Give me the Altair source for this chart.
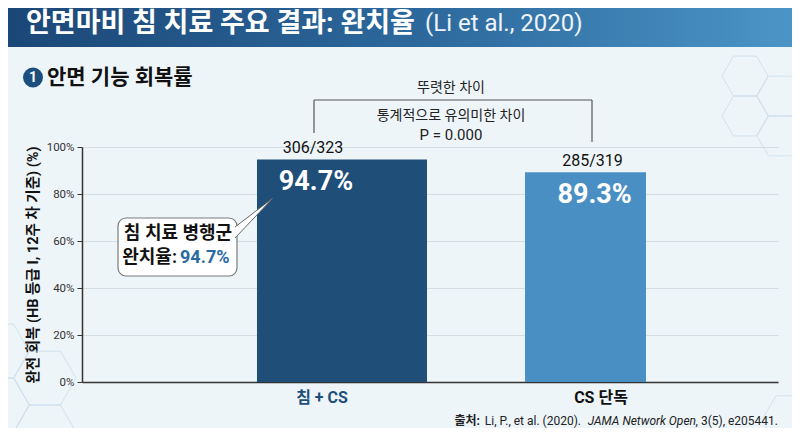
import altair as alt
import pandas as pd

# ---------------- data ----------------
categories = ["침 + CS", "CS 단독"]
rates = [94.7, 89.3]
counts = ["306/323", "285/319"]
y_ticks = [0, 20, 40, 60, 80, 100]

title_main = "안면마비 침 치료 주요 결과: 완치율"
title_ref = "(Li et al., 2020)"
subtitle_num = "1"
subtitle = "안면 기능 회복률"
y_title = "완전 회복 (HB 등급 I, 12주 차 기준) (%)"
bracket_top = "뚜렷한 차이"
bracket_mid = "통계적으로 유의미한 차이"
p_text = "P = 0.000"
callout_1 = "침 치료 병행군"
callout_2 = "완치율:"
source_parts = ["출처:", "Li, P., et al. (2020).", "JAMA Network Open", ", 3(5), e205441."]

# ---------------- styles ----------------
bar_colors = ["#1f4e79", "#4a8fc4"]
bar_widths = [170, 121]
count_dx = [-29, 7]
value_dx = [-26, 9]
FONT = "Roboto, 'Noto Sans CJK KR', sans-serif"
W, H = 696, 235

df = pd.DataFrame({
    "group": categories,
    "rate": rates,
    "count": counts,
    "label": [f"{r}%" for r in rates],
})

X = alt.X(
    "group:N",
    sort=categories,
    scale=alt.Scale(domain=categories, paddingInner=0.3, paddingOuter=0.579,
                    align=0.6197, round=False),
    axis=alt.Axis(
        title=None, labelAngle=0, ticks=False, grid=False,
        domainColor="#333333", domainWidth=1.5,
        labelFont=FONT, labelFontSize=16, labelFontWeight="bold",
        labelPadding=7,
        labelColor={"condition": {"test": f"datum.value === '{categories[0]}'", "value": "#1f4e79"},
                    "value": "#111111"},
        labelOffset={"condition": {"test": f"datum.value === '{categories[0]}'", "value": -20},
                     "value": 15.5},
    ),
)
Y = alt.Y(
    "rate:Q",
    scale=alt.Scale(domain=[0, 100]),
    axis=alt.Axis(
        values=y_ticks, labelExpr="datum.value + '%'",
        title=y_title, titleFont=FONT, titleFontSize=14.5, titleFontWeight="bold",
        titleColor="#111111", titleX=-49, titleY=H / 2, titleAlign="center",
        titleBaseline="middle", titleAngle=-90,
        labelFont=FONT, labelFontSize=11.5, labelColor="#333333", labelPadding=3,
        tickColor="#333333", tickSize=5, domainColor="#333333", domainWidth=1.5,
        grid=True, gridColor="#d5dde4", gridWidth=1,
    ),
)

one = alt.InlineData(values=[{"k": 1}])


def txt(text, x, y, size, weight="normal", color="#111111", align="left", style="normal"):
    return alt.Chart(one).mark_text(
        text=text, font=FONT, fontSize=size, fontWeight=weight, color=color,
        align=align, baseline="middle", fontStyle=style,
    ).encode(x=alt.value(x), y=alt.value(y))


def rule(x, y, x2=None, y2=None, color="#555555", width=1.2):
    enc = dict(x=alt.value(x), y=alt.value(y))
    if x2 is not None:
        enc["x2"] = alt.value(x2)
    if y2 is not None:
        enc["y2"] = alt.value(y2)
    return alt.Chart(one).mark_rule(color=color, strokeWidth=width).encode(**enc)


HEX = "M-1,0L-0.5,-0.866L0.5,-0.866L1,0L0.5,0.866L-0.5,0.866Z"


def hexa(cx, cy, r):
    return alt.Chart(one).mark_point(
        shape=HEX, size=(2 * r) ** 2, filled=False, stroke="#c8dbea",
        strokeWidth=1, opacity=0.7,
    ).encode(x=alt.value(cx - 82), y=alt.value(cy - 147))


layers = []

# decorative hexagons
for cx, cy, r in [(745, 76, 23), (780, 96, 23), (780, 136, 23), (745, 116, 23),
                  (45, 378, 31), (-2, 351, 31), (-2, 405, 31), (45, 432, 31),
                  (790, 420, 28)]:
    layers.append(hexa(cx, cy, r))

# header band
header = alt.Chart(one).mark_rect(
    color=alt.LinearGradient(
        gradient="linear", x1=0, x2=1, y1=0, y2=0,
        stops=[alt.GradientStop(offset=0, color="#1b4777"),
               alt.GradientStop(offset=0.55, color="#2e6a9e"),
               alt.GradientStop(offset=1, color="#4b95c6")],
    )
).encode(x=alt.value(-74), x2=alt.value(W + 14), y=alt.value(-139), y2=alt.value(47 - 147))
layers.append(header)
layers.append(txt(title_main, 26 - 82, 24 - 147, 27, "bold", "#ffffff"))
layers.append(txt(title_ref, 425 - 82, 24 - 147, 24, "normal", "#eef4fa"))

# subtitle
layers.append(alt.Chart(one).mark_point(shape="circle", size=400, filled=True,
                                        color="#1d4f7e", opacity=1)
              .encode(x=alt.value(33 - 82), y=alt.value(77.5 - 147)))
layers.append(txt(subtitle_num, 33 - 82, 77.5 - 147, 14, "bold", "#ffffff", "center"))
layers.append(txt(subtitle, 47 - 82, 77.5 - 147, 21, "bold", "#111111"))

# bars and labels
for i, cat in enumerate(categories):
    base = alt.Chart(df).transform_filter(alt.datum.group == cat)
    layers.append(base.mark_bar(size=bar_widths[i], color=bar_colors[i]).encode(x=X, y=Y))
for i, cat in enumerate(categories):
    base = alt.Chart(df).transform_filter(alt.datum.group == cat)
    layers.append(base.mark_text(font=FONT, fontSize=16, color="#111111", baseline="middle",
                                 dx=count_dx[i], dy=-11)
                  .encode(x=X, y=Y, text="count:N"))
    layers.append(base.mark_text(font=FONT, fontSize=27, fontWeight="bold", color="#ffffff",
                                 baseline="middle", dx=value_dx[i], dy=22.5)
                  .encode(x=X, y=Y, text="label:N"))

# significance bracket
layers.append(rule(314 - 82, 100 - 147, x2=592 - 82))
layers.append(rule(314 - 82, 100 - 147, y2=133 - 147))
layers.append(rule(592 - 82, 100 - 147, y2=142 - 147))
layers.append(txt(bracket_top, 451 - 82, 88 - 147, 14, "normal", "#222222", "center"))
layers.append(txt(bracket_mid, 451 - 82, 116 - 147, 14, "normal", "#222222", "center"))
layers.append(txt(p_text, 451 - 82, 135 - 147, 15, "normal", "#222222", "center"))

# callout
layers.append(alt.Chart(one).mark_rect(cornerRadius=8, fill="#ffffff", stroke="#7a7a7a",
                                       strokeWidth=1.2)
              .encode(x=alt.value(118 - 82), x2=alt.value(237 - 82),
                      y=alt.value(218 - 147), y2=alt.value(276 - 147)))
layers.append(alt.Chart(one).mark_point(shape="M0,0L38,-29L0,11", size=4, filled=True,
                                        fill="#ffffff", stroke="#666666", strokeWidth=1,
                                        opacity=1)
              .encode(x=alt.value(235 - 82), y=alt.value(227 - 147)))
layers.append(txt(callout_1, 178 - 82, 234 - 147, 18, "bold", "#111111", "center"))
layers.append(txt(callout_2, 177 - 82, 257.5 - 147, 18, "bold", "#111111", "right"))
layers.append(txt(f"{rates[0]}%", 180 - 82, 257.5 - 147, 18, "bold", "#2a6aa2", "left"))

# source (each part right-aligned so the line ends at the right edge)
src_right = [480, 581, 696, 778]
src_w = ["bold", "normal", "normal", "normal"]
src_s = ["normal", "normal", "italic", "normal"]
for t, sx, wgt, sty in zip(source_parts, src_right, src_w, src_s):
    layers.append(txt(t, sx - 82, 421 - 147, 12, wgt, "#222222", "right", sty))

chart = alt.layer(*layers).properties(
    width=W, height=H,
    autosize=alt.AutoSizeParams(type="none"),
    padding={"left": 74, "top": 139, "right": 14, "bottom": 46},
).configure(
    background="#eef5f9",
).configure_view(stroke=None)

chart.save("out.html", embed_options={"renderer": "svg", "actions": False})
